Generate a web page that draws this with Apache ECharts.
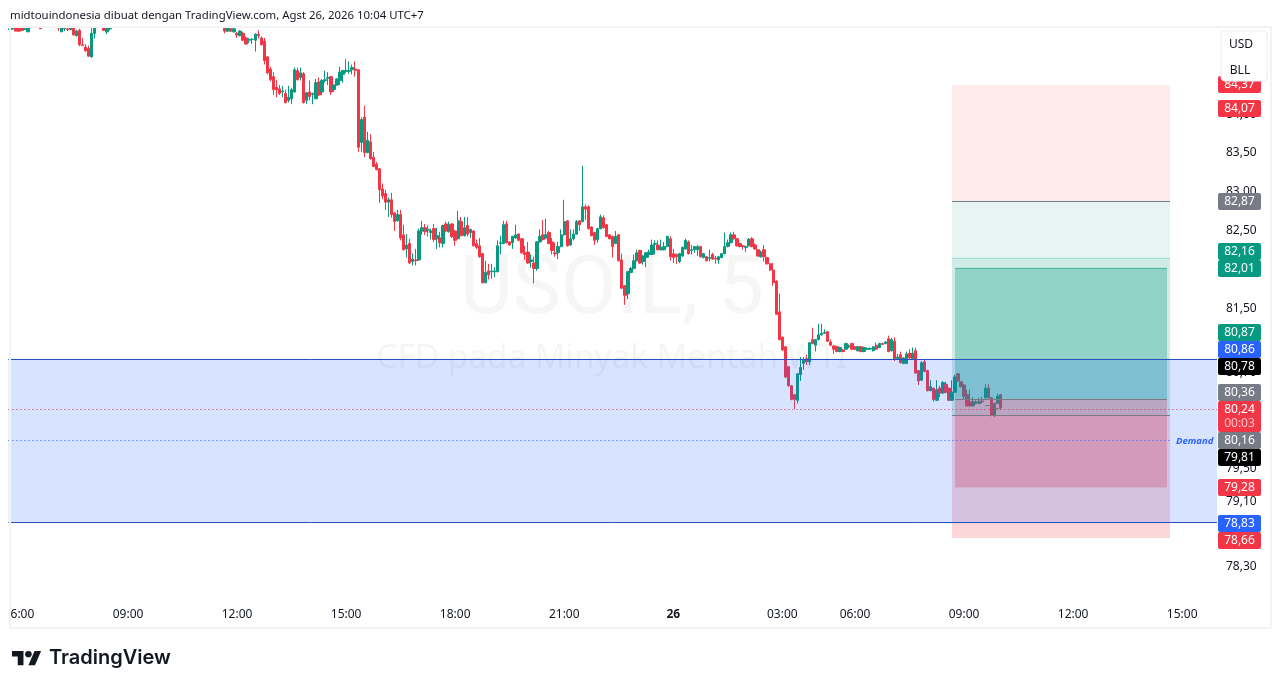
<!DOCTYPE html>
<html><head><meta charset="utf-8">
<style>html,body{margin:0;padding:0;background:#fff}#c{width:1281px;height:688px}</style>
<script src="https://cdn.jsdelivr.net/npm/echarts@6/dist/echarts.min.js"></script>
</head><body><div id="c"></div>
<script>
const n = null;
const opens = [
85.09,85.10,85.12,85.11,85.11,85.09,85.06,n,n,n,
85.12,n,n,n,n,n,85.12,85.06,85.10,85.10,
85.09,85.11,85.01,85.08,84.89,84.86,84.84,84.73,85.04,n,
n,85.12,85.06,85.10,n,n,n,n,n,n,
n,n,n,n,n,n,n,n,n,n,
n,n,n,n,n,n,n,n,n,n,
n,n,n,n,n,n,n,n,n,n,
n,85.12,85.07,85.10,85.06,85.04,85.01,85.04,84.98,84.95,
84.96,84.95,85.03,84.98,84.94,84.73,84.57,84.47,84.33,84.31,
84.27,84.25,84.16,84.18,84.27,84.55,84.46,84.51,84.16,84.27,
84.24,84.18,84.40,84.27,84.42,84.45,84.47,84.30,84.36,84.42,
84.50,84.54,84.54,84.56,84.57,84.56,83.61,83.94,83.48,83.62,
83.42,83.33,83.27,83.01,82.95,82.84,82.87,82.70,82.60,82.68,
82.42,82.24,82.31,82.08,82.10,82.10,82.47,82.51,82.48,82.45,
82.50,82.37,82.38,82.31,82.56,82.46,82.56,82.47,82.37,82.59,
82.41,82.54,82.45,82.47,82.31,82.28,82.18,81.81,81.96,81.95,
81.95,81.95,82.31,82.31,82.56,82.33,82.32,82.38,82.43,82.37,
82.19,82.20,82.08,82.06,81.99,82.33,82.42,82.38,82.45,82.33,
82.19,82.19,82.27,82.42,82.60,82.29,82.37,82.43,82.60,82.59,
82.78,82.78,82.52,82.45,82.36,82.50,82.64,82.55,82.42,82.40,
82.31,82.42,82.10,81.77,81.67,81.94,81.99,82.09,82.22,82.08,
82.13,82.17,82.17,82.30,82.29,82.23,82.23,82.27,82.37,82.18,
82.17,82.08,82.15,82.24,82.33,82.22,82.23,82.23,82.27,82.13,
82.14,82.12,82.17,82.12,82.10,82.13,82.18,82.27,82.32,82.42,
82.37,82.31,82.28,82.26,82.28,82.37,82.29,82.23,82.14,82.23,
82.13,82.05,81.97,81.83,81.44,81.12,81.00,80.75,80.51,80.40,
80.33,80.65,80.79,80.85,80.81,81.09,81.02,81.09,81.15,81.17,
81.19,81.06,81.01,81.00,80.94,80.96,80.97,81.00,81.04,81.00,
80.95,81.00,80.94,80.97,80.97,80.95,81.02,80.99,81.04,81.04,
81.10,80.95,81.07,80.85,80.90,80.79,80.79,80.92,80.85,80.95,
80.70,80.58,80.81,80.70,80.45,80.48,80.33,80.48,80.42,80.53,
80.48,80.33,80.43,80.66,80.56,80.52,80.40,80.31,80.26,80.30,
80.29,80.32,80.36,80.48,80.36,80.14,80.29,80.40];
const closes = [
85.10,85.12,85.07,85.07,85.08,85.10,85.12,n,n,n,
85.10,n,n,n,n,n,85.11,85.12,85.11,85.09,
85.12,85.02,85.07,84.89,84.88,84.81,84.74,85.04,85.12,n,
n,85.08,85.12,85.11,n,n,n,n,n,n,
n,n,n,n,n,n,n,n,n,n,
n,n,n,n,n,n,n,n,n,n,
n,n,n,n,n,n,n,n,n,n,
n,85.07,85.11,85.07,85.10,85.02,85.07,84.95,84.90,84.96,
84.96,85.03,85.01,84.89,84.68,84.52,84.43,84.30,84.30,84.25,
84.28,84.13,84.20,84.30,84.56,84.43,84.52,84.13,84.26,84.21,
84.25,84.39,84.23,84.42,84.43,84.46,84.27,84.36,84.44,84.53,
84.55,84.55,84.55,84.59,84.55,83.55,83.91,83.48,83.64,83.40,
83.30,83.26,83.00,82.92,82.84,82.87,82.68,82.59,82.68,82.38,
82.23,82.29,82.06,82.11,82.09,82.47,82.51,82.46,82.49,82.47,
82.36,82.41,82.32,82.54,82.47,82.55,82.40,82.35,82.60,82.41,
82.51,82.43,82.49,82.28,82.26,82.14,81.81,81.94,81.91,81.96,
81.96,82.28,82.32,82.55,82.32,82.29,82.40,82.42,82.35,82.19,
82.17,82.06,82.10,81.99,82.33,82.40,82.36,82.42,82.31,82.22,
82.18,82.27,82.42,82.59,82.28,82.37,82.43,82.59,82.55,82.78,
82.75,82.50,82.41,82.35,82.50,82.65,82.51,82.40,82.37,82.27,
82.40,82.09,81.74,81.65,81.95,81.99,82.09,82.19,82.06,82.15,
82.19,82.20,82.29,82.31,82.23,82.26,82.27,82.40,82.14,82.13,
82.14,82.18,82.26,82.35,82.18,82.23,82.27,82.27,82.14,82.18,
82.09,82.13,82.11,82.11,82.14,82.18,82.27,82.32,82.42,82.37,
82.28,82.27,82.27,82.27,82.36,82.27,82.24,82.15,82.20,82.14,
82.05,81.97,81.81,81.41,81.09,80.96,80.62,80.51,80.34,80.34,
80.66,80.74,80.84,80.81,81.05,81.04,81.09,81.15,81.17,81.18,
81.07,81.02,80.97,80.94,80.99,80.94,81.04,81.01,80.97,80.97,
81.00,80.94,80.99,80.98,80.98,81.00,80.97,81.04,81.03,81.06,
80.94,81.09,80.85,80.87,80.80,80.86,80.91,80.86,80.92,80.67,
80.57,80.80,80.69,80.45,80.50,80.34,80.46,80.42,80.55,80.43,
80.33,80.43,80.62,80.57,80.50,80.38,80.26,80.26,80.31,80.31,
80.32,80.31,80.48,80.36,80.14,80.29,80.38,80.24];
const lows = [
85.07,85.09,85.07,85.06,85.07,85.09,85.06,n,n,n,
85.10,n,n,n,n,n,85.07,85.06,85.07,85.07,
85.08,85.01,85.00,84.87,84.87,84.80,84.73,84.72,84.97,n,
n,85.07,85.03,85.08,n,n,n,n,n,n,
n,n,n,n,n,n,n,n,n,n,
n,n,n,n,n,n,n,n,n,n,
n,n,n,n,n,n,n,n,n,n,
n,85.04,85.06,85.06,85.05,84.98,85.00,84.94,84.89,84.91,
84.90,84.80,84.97,84.88,84.63,84.50,84.41,84.23,84.20,84.23,
84.20,84.12,84.13,84.11,84.26,84.42,84.42,84.12,84.11,84.16,
84.11,84.18,84.22,84.23,84.39,84.36,84.23,84.27,84.35,84.36,
84.39,84.52,84.51,84.50,84.47,83.49,83.49,83.42,83.47,83.39,
83.29,83.25,82.83,82.88,82.74,82.65,82.64,82.47,82.59,82.35,
82.22,82.13,82.05,82.03,82.03,82.09,82.42,82.42,82.40,82.36,
82.33,82.24,82.26,82.26,82.46,82.45,82.38,82.28,82.36,82.40,
82.40,82.40,82.38,82.27,82.24,82.13,81.80,81.80,81.85,81.86,
81.88,81.94,82.17,82.30,82.31,82.28,82.24,82.37,82.34,82.18,
82.10,82.05,82.00,81.80,81.96,82.32,82.35,82.37,82.30,82.17,
82.14,82.11,82.26,82.41,82.27,82.28,82.35,82.42,82.47,82.58,
82.61,82.49,82.40,82.29,82.32,82.49,82.50,82.39,82.36,82.13,
82.30,82.08,81.73,81.53,81.60,81.93,81.98,82.08,82.05,82.04,
82.01,82.13,82.16,82.17,82.22,82.22,82.22,82.26,82.09,82.06,
82.05,82.06,82.14,82.23,82.17,82.17,82.19,82.15,82.13,82.12,
82.08,82.08,82.10,82.05,82.05,82.12,82.17,82.26,82.31,82.36,
82.27,82.26,82.23,82.20,82.27,82.26,82.23,82.14,82.13,82.08,
82.04,81.96,81.77,81.40,81.08,80.95,80.61,80.50,80.33,80.22,
80.29,80.57,80.71,80.77,80.77,81.03,80.94,81.08,81.14,81.16,
81.06,81.01,80.91,80.93,80.93,80.93,80.96,80.98,80.96,80.96,
80.94,80.93,80.93,80.96,80.96,80.94,80.96,80.98,81.02,81.03,
80.93,80.94,80.82,80.84,80.79,80.78,80.78,80.85,80.84,80.66,
80.52,80.57,80.68,80.44,80.44,80.31,80.32,80.37,80.41,80.42,
80.32,80.32,80.42,80.56,80.49,80.34,80.25,80.25,80.25,80.28,
80.28,80.29,80.35,80.35,80.13,80.12,80.28,80.21];
const highs = [
85.12,85.12,85.12,85.12,85.12,85.11,85.12,n,n,n,
85.12,n,n,n,n,n,85.12,85.12,85.12,85.12,
85.12,85.12,85.09,85.10,84.98,84.90,84.88,85.11,85.12,n,
n,85.12,85.12,85.12,n,n,n,n,n,n,
n,n,n,n,n,n,n,n,n,n,
n,n,n,n,n,n,n,n,n,n,
n,n,n,n,n,n,n,n,n,n,
n,85.12,85.12,85.11,85.11,85.06,85.08,85.06,85.00,84.98,
84.98,85.04,85.08,85.00,84.98,84.74,84.60,84.53,84.43,84.36,
84.35,84.30,84.35,84.32,84.59,84.59,84.59,84.53,84.27,84.42,
84.26,84.44,84.46,84.44,84.55,84.53,84.48,84.37,84.45,84.60,
84.56,84.70,84.67,84.63,84.67,84.57,83.94,84.09,83.75,83.72,
83.49,83.36,83.28,83.08,83.00,82.90,82.96,82.71,82.74,82.74,
82.55,82.43,82.37,82.18,82.24,82.50,82.60,82.56,82.54,82.50,
82.56,82.51,82.46,82.55,82.59,82.59,82.57,82.48,82.73,82.65,
82.65,82.65,82.50,82.48,82.36,82.38,82.19,82.09,82.05,82.05,
82.01,82.35,82.41,82.60,82.60,82.34,82.41,82.55,82.44,82.38,
82.28,82.33,82.17,82.14,82.34,82.49,82.61,82.63,82.47,82.38,
82.32,82.33,82.49,82.87,82.61,82.49,82.49,82.61,82.61,83.31,
82.81,82.80,82.53,82.46,82.51,82.68,82.67,82.56,82.43,82.41,
82.47,82.43,82.18,81.78,81.96,82.01,82.17,82.23,82.23,82.16,
82.20,82.23,82.36,82.35,82.35,82.36,82.33,82.41,82.40,82.24,
82.18,82.19,82.27,82.37,82.35,82.29,82.28,82.29,82.28,82.19,
82.15,82.23,82.19,82.15,82.15,82.19,82.45,82.36,82.45,82.46,
82.38,82.32,82.29,82.28,82.38,82.39,82.31,82.24,82.22,82.29,
82.14,82.06,82.06,81.84,81.67,81.13,81.01,80.76,80.52,80.41,
80.67,80.87,80.87,80.90,81.06,81.24,81.10,81.29,81.29,81.22,
81.20,81.09,81.02,81.01,81.00,80.97,81.05,81.03,81.05,81.01,
81.01,81.01,81.00,80.99,80.99,81.01,81.05,81.05,81.05,81.07,
81.14,81.11,81.12,80.91,80.94,80.87,80.94,80.97,80.99,80.99,
80.71,80.82,80.84,80.71,80.58,80.49,80.58,80.51,80.57,80.56,
80.49,80.58,80.65,80.67,80.57,80.53,80.46,80.46,80.37,80.33,
80.36,80.37,80.53,80.53,80.37,80.30,80.41,80.41];

// 5-minute bar times (04:00-05:00 is the daily session break)
const startMinute = 345, barCount = 399, breakStart = 240, breakEnd = 300;
const timeTicks = ['06:00','09:00','12:00','15:00','18:00','21:00','26','03:00'];
const categories = [];
for (let i = 0, m = startMinute; i < barCount; i++, m += 5) {
  if (m % 1440 === breakStart) m += breakEnd - breakStart;
  const mm = m % 1440, h = Math.floor(mm / 60), mi = mm % 60;
  categories.push(mm === 0 ? '26' : String(h).padStart(2,'0') + ':' + String(mi).padStart(2,'0'));
}
const priceTicks = [84.0,83.5,83.0,82.5,82.0,81.5,81.1,80.7,80.3,79.9,79.5,79.1,78.7,78.3];

// overlay rectangles, drawn in this order (x are bar indexes, null = pane edge)
const boxFrom   = [311, 311, 311, 311, 312, 312, n];
const boxTo     = [383, 383, 383, 383, 382, 382, n];
const boxTop    = [84.36, 82.86, 82.13, 80.15, 82.00, 80.35, 80.85];
const boxBottom = [82.86, 80.15, 80.15, 78.63, 80.35, 79.25, 78.82];
const boxFill   = ['rgba(242,54,69,.1)','rgba(8,153,129,.1)','rgba(8,153,129,.1)','rgba(242,54,69,.2)','rgba(8,153,129,.3)','rgba(242,54,69,.3)','rgba(41,98,255,.18)'];

const lineFrom  = [n, n, n, n, 311, 311, 312, 311, 312, 319, 322, 325];
const lineTo    = [n, n, n, 383, 383, 383, 382, 383, 382, 320, 324, 327];
const linePrice = [80.85, 78.82, 80.22, 79.83, 82.86, 80.15, 80.35, 82.13, 82.00, 80.29, 80.27, 80.23];
const lineColor = ['#2a50c0','#2a50c0','#cf3060','#2962FF','#787B86','#787B86','#787B86','rgba(8,153,129,.2)','rgba(8,153,129,.5)','#787B86','#787B86','#787B86'];
const lineDash  = [n, n, [1,3], [1,3], n, n, n, n, n, n, n, n];

// price tags at the right (de-collided positions as on the reference)
const tagText   = ['84,37','84,07','82,87','82,16','82,01','80,87','80,86','80,78','80,36','80,24','80,16','79,81','79,28','78,83','78,66'];
const tagColor  = ['#F23645','#F23645','#787B86','#089981','#089981','#089981','#2962FF','#000000','#787B86','#F23645','#787B86','#000000','#F23645','#2962FF','#F23645'];
const tagTop    = [76,100,193,243,260,324,341,358,384,401,432,449,479,515,532];
const tagHeight = [17,17,17,17,17,17,17,17,17,31,17,17,17,17,17];

const UI = 'Noto Sans, sans-serif';
const green = '#089981', red = '#F23645';
const chart = echarts.init(document.getElementById('c'), null, {renderer:'canvas'});

const graphics = [
  {type:'text', z:-1, style:{x:612, y:293, text:'USOIL, 5', font:'81px Roboto, sans-serif', fill:'#f6f6f7', align:'center', verticalAlign:'middle'}},
  {type:'text', z:-1, style:{x:612, y:358, text:'CFD pada Minyak Mentah WTI', font:'33.4px '+UI, fill:'#f5f5f6', align:'center', verticalAlign:'middle'}},
  {type:'rect', z:90, shape:{x:0,y:590,width:9,height:38}, style:{fill:'#fff'}},
  {type:'rect', z:91, shape:{x:10,y:27,width:1261,height:601}, style:{fill:'none', stroke:'#f3f3f3', lineWidth:2}},
  {type:'text', z:95, style:{x:10, y:16, text:'midtouindonesia dibuat dengan TradingView.com, Agst 26, 2026 10:04 UTC+7', font:'11.4px '+UI, fill:'#131722', verticalAlign:'middle'}},
  {type:'text', z:95, style:{x:1176, y:441, text:'Demand', font:'italic bold 9.5px '+UI, fill:'#2962FF', verticalAlign:'middle'}},
  {type:'polygon', z:95, x:12, y:648, scaleX:.82, scaleY:.78, shape:{points:[[0,4],[14,4],[14,22],[7,22],[7,11],[0,11]]}, style:{fill:'#131722'}},
  {type:'polygon', z:95, x:12, y:648, scaleX:.82, scaleY:.78, shape:{points:[[28,22],[20,22],[27.5,4],[35.5,4]]}, style:{fill:'#131722'}},
  {type:'circle', z:95, x:12, y:648, scaleX:.82, scaleY:.78, shape:{cx:20,cy:8,r:4}, style:{fill:'#131722'}},
  {type:'text', z:95, style:{x:49, y:658, text:'TradingView', font:'600 20px Inter, sans-serif', fill:'#131722', verticalAlign:'middle'}}
];
tagText.forEach((t,i)=>{
  graphics.push({type:'rect', z:100, shape:{x:1218,y:tagTop[i],width:43,height:tagHeight[i],r:2}, style:{fill:tagColor[i]}});
  graphics.push({type:'text', z:101, style:{x:1239.5,y:tagTop[i]+9,text:t,font:'12px '+UI,fill:'#fff',align:'center',verticalAlign:'middle'}});
});
graphics.push({type:'text', z:101, style:{x:1239.5,y:424,text:'00:03',font:'12px '+UI,fill:'rgba(255,255,255,.7)',align:'center',verticalAlign:'middle'}});
graphics.push({type:'rect', z:110, shape:{x:1221,y:31,width:46,height:50,r:4}, style:{fill:'#fff',stroke:'#eceef2',lineWidth:1}});
graphics.push({type:'text', z:111, style:{x:1241,y:45,text:'USD',font:'12px '+UI,fill:'#131722',align:'center',verticalAlign:'middle'}});
graphics.push({type:'text', z:111, style:{x:1240,y:71,text:'BLL',font:'12px '+UI,fill:'#131722',align:'center',verticalAlign:'middle'}});

function overlayItem(params, api){
  const cs = params.coordSys, kids = [];
  boxFill.forEach((fill,b)=>{
    const x0 = boxFrom[b]===n ? cs.x : api.coord([boxFrom[b], boxTop[b]])[0];
    const x1 = boxTo[b]===n ? cs.x+cs.width : api.coord([boxTo[b], boxTop[b]])[0];
    const y0 = api.coord([0, boxTop[b]])[1], y1 = api.coord([0, boxBottom[b]])[1];
    kids.push({type:'rect', shape:{x:x0,y:y0,width:x1-x0,height:y1-y0}, style:{fill}});
  });
  linePrice.forEach((p,l)=>{
    const x0 = lineFrom[l]===n ? cs.x : api.coord([lineFrom[l], p])[0];
    const x1 = lineTo[l]===n ? cs.x+cs.width : api.coord([lineTo[l], p])[0];
    const y = Math.round(api.coord([0,p])[1]) + .5;
    kids.push({type:'line', shape:{x1:x0,y1:y,x2:x1,y2:y}, style:{stroke:lineColor[l], lineWidth:1, lineDash:lineDash[l]||null}});
  });
  return {type:'group', children:kids};
}

chart.setOption({
  animation:false,
  backgroundColor:'#fff',
  textStyle:{fontFamily:UI},
  grid:{left:8.4, right:64, top:28, bottom:88},
  graphic:{elements:graphics},
  xAxis:{type:'category', data:categories, boundaryGap:true,
    axisLine:{show:false}, axisTick:{show:false}, splitLine:{show:false},
    axisLabel:{interval:(i,v)=>timeTicks.includes(v) && (v==='26' || v.endsWith(':00')), margin:9, fontSize:12, color:'#131722', hideOverlap:false,
      formatter:v=> v==='26' ? '{b|26}' : v, rich:{b:{fontWeight:'bold',fontSize:12,color:'#131722'}}}},
  yAxis:{type:'log', position:'right', min:77.876, max:85.111, scale:true,
    axisLine:{show:false}, axisTick:{show:false}, splitLine:{show:false}, minorTick:{show:false},
    axisLabel:{customValues:priceTicks, margin:9, color:'#131722',
      formatter:v=>'{t|'+Number(v).toFixed(2).replace('.',',')+'}',
      rich:{t:{fontSize:12, color:'#131722', padding:[3,0,0,0]}}}},
  series:[
    {type:'candlestick', z:2, barWidth:2.9, clip:true,
     data:opens.map((o,i)=> o===n ? ['-','-','-','-'] : [o, closes[i], lows[i], highs[i]]),
     itemStyle:{color:green, color0:red, borderColor:green, borderColor0:red, borderWidth:1}},
    {type:'custom', z:3, clip:true, silent:true, renderItem:overlayItem, data:[[0,82]], encode:{x:0,y:1}}
  ]
});
</script></body></html>
